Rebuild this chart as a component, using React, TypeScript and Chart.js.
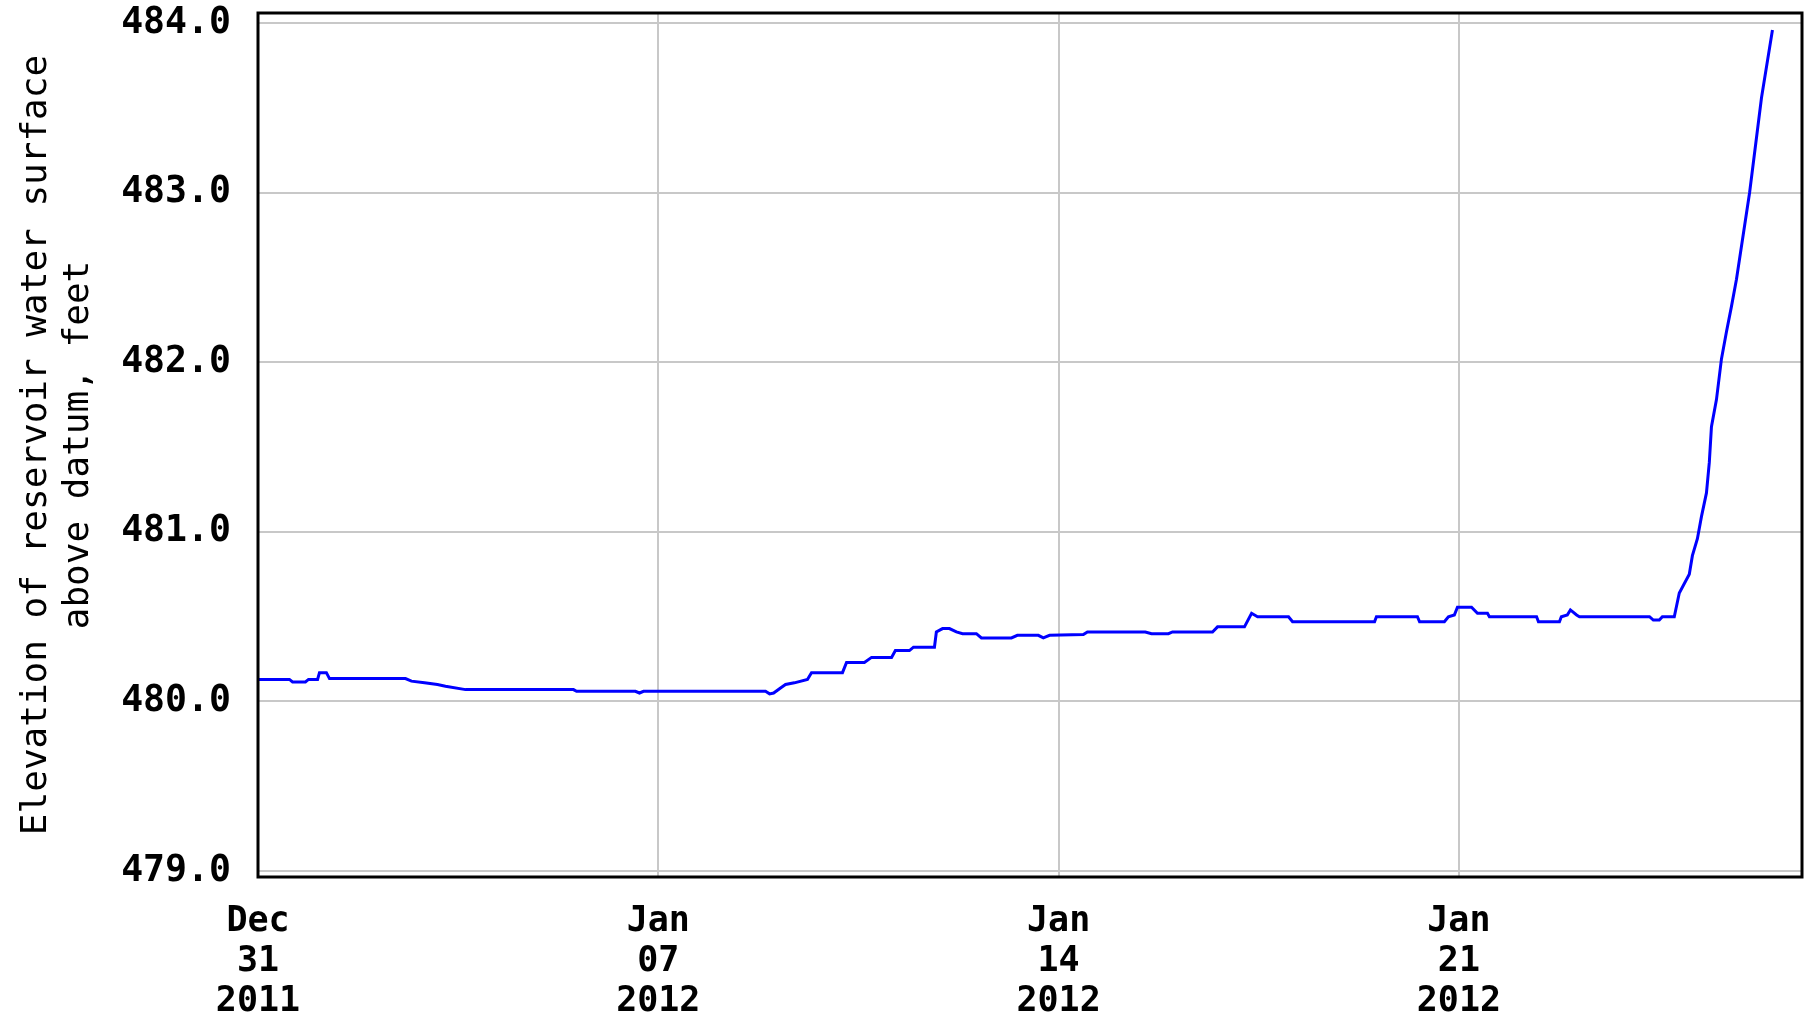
import { useEffect, useRef } from "react";
import { Chart, registerables } from "chart.js";

Chart.register(...registerables);

// Hours elapsed since 2011-12-31 00:00
const hoursSinceStart = [
  0, 13.2, 14.5, 19.9, 21.2, 25.0, 25.8, 28.7, 30.0, 61.9,
  64.4, 69.9, 75.3, 78.7, 87.1, 132.4, 133.7, 158.4, 160.1, 161.8,
  213.0, 214.7, 216.4, 219.3, 221.4, 225.1, 230.6, 232.3, 245.3, 247.0,
  254.5, 257.5, 265.9, 267.5, 273.4, 275.1, 283.9, 284.7, 287.3, 290.2,
  293.1, 295.7, 301.5, 303.6, 316.2, 318.7, 327.5, 329.6, 332.2, 346.4,
  348.1, 372.4, 375.0, 382.1, 383.8, 400.6, 402.7, 414.0, 417.0, 419.5,
  432.5, 434.2, 468.6, 469.4, 486.6, 487.5, 497.9, 499.6, 502.1, 503.4,
  509.3, 511.8, 516.0, 516.8, 536.6, 537.4, 546.2, 547.0, 549.5, 550.8,
  553.4, 554.6, 584.0, 585.6, 588.1, 589.4, 594.4, 596.5, 600.7, 602.0,
  604.1, 605.8, 607.9, 609.1, 610.0, 612.1, 614.2, 616.3, 618.4, 620.5,
  626.0, 631.0, 635.6,
];

// Reservoir water-surface elevation, feet above datum
const elevationFeet = [
  480.13, 480.13, 480.115, 480.115, 480.13, 480.13, 480.17, 480.17, 480.135, 480.135,
  480.12, 480.11, 480.1, 480.09, 480.07, 480.07, 480.06, 480.06, 480.05, 480.06,
  480.06, 480.045, 480.05, 480.08, 480.1, 480.11, 480.13, 480.17, 480.17, 480.23,
  480.23, 480.26, 480.26, 480.3, 480.3, 480.32, 480.32, 480.41, 480.43, 480.43,
  480.41, 480.4, 480.4, 480.375, 480.375, 480.39, 480.39, 480.375, 480.39, 480.395,
  480.41, 480.41, 480.4, 480.4, 480.41, 480.41, 480.44, 480.44, 480.52, 480.5,
  480.5, 480.47, 480.47, 480.5, 480.5, 480.47, 480.47, 480.5, 480.51, 480.556,
  480.556, 480.52, 480.52, 480.5, 480.5, 480.47, 480.47, 480.5, 480.51, 480.54,
  480.51, 480.5, 480.5, 480.48, 480.48, 480.5, 480.5, 480.64, 480.75, 480.86,
  480.96, 481.09, 481.23, 481.41, 481.62, 481.78, 482.02, 482.18, 482.33, 482.49,
  483.0, 483.56, 483.96,
];

const xTickHours = [0, 168, 336, 504];
const xTickLabels = [
  ["Dec", "31", "2011"],
  ["Jan", "07", "2012"],
  ["Jan", "14", "2012"],
  ["Jan", "21", "2012"],
];
const yTickValues = [479, 480, 481, 482, 483, 484];
const yAxisTitle = ["Elevation of reservoir water surface", "above datum, feet"];

const X_MIN = 0;
const X_MAX = 648;
const Y_MIN = 478.965;
const Y_MAX = 484.06;

const MONO = "'DejaVu Sans Mono', monospace";

const framePlugin = {
  id: "plotFrame",
  afterDraw(chart: any) {
    const { ctx, chartArea } = chart;
    ctx.save();
    ctx.strokeStyle = "#000";
    ctx.lineWidth = 3;
    ctx.strokeRect(
      chartArea.left,
      chartArea.top,
      chartArea.right - chartArea.left,
      chartArea.bottom - chartArea.top
    );
    ctx.restore();
  },
};

export default function App() {
  const canvasRef = useRef<HTMLCanvasElement | null>(null);

  useEffect(() => {
    const canvas = canvasRef.current;
    if (!canvas) return;
    const points = hoursSinceStart.map((h, i) => ({ x: h, y: elevationFeet[i] }));

    const chart = new Chart(canvas, {
      type: "line",
      data: {
        datasets: [
          {
            data: points,
            borderColor: "#0000ff",
            borderWidth: 3,
            pointRadius: 0,
            tension: 0,
            fill: false,
          },
        ],
      },
      options: {
        responsive: false,
        animation: false,
        layout: { padding: { top: 13, right: 8, bottom: 0, left: 0 } },
        plugins: {
          legend: { display: false },
          tooltip: { enabled: false },
          title: { display: false },
        },
        scales: {
          x: {
            type: "linear",
            min: X_MIN,
            max: X_MAX,
            border: { display: false },
            grid: { color: "#c8c8c8", lineWidth: 2, drawTicks: false },
            afterBuildTicks: (scale: any) => {
              scale.ticks = xTickHours.map((v) => ({ value: v }));
            },
            afterFit: (scale: any) => {
              scale.height = 143;
              scale.paddingLeft = 0;
              scale.paddingRight = 0;
            },
            ticks: {
              autoSkip: false,
              maxRotation: 0,
              minRotation: 0,
              padding: 25,
              color: "#000",
              font: { family: MONO, size: 35, weight: "bold", lineHeight: 40 / 35 },
              callback: (value: any) => {
                const i = xTickHours.indexOf(Number(value));
                return i >= 0 ? xTickLabels[i] : "";
              },
            },
          },
          y: {
            type: "linear",
            min: Y_MIN,
            max: Y_MAX,
            border: { display: false },
            grid: { color: "#c8c8c8", lineWidth: 2, drawTicks: false },
            afterBuildTicks: (scale: any) => {
              scale.ticks = yTickValues.map((v) => ({ value: v }));
            },
            afterFit: (scale: any) => {
              scale.width = 258;
              scale.paddingTop = 0;
              scale.paddingBottom = 0;
            },
            ticks: {
              autoSkip: false,
              padding: 27,
              color: "#000",
              font: { family: MONO, size: 36.5, weight: "bold" },
              callback: (value: any) => Number(value).toFixed(1),
            },
            title: {
              display: true,
              text: yAxisTitle,
              color: "#000",
              padding: { top: 16, bottom: 0 },
              font: { family: MONO, size: 36, weight: "normal", lineHeight: 42 / 36 },
            },
          },
        },
      },
      plugins: [framePlugin],
    });

    return () => chart.destroy();
  }, []);

  return (
    <div style={{ position: "fixed", left: 0, top: 0, width: 1810, height: 1020, background: "#fff" }}>
      <canvas ref={canvasRef} width={1810} height={1020} style={{ display: "block" }} />
    </div>
  );
}
